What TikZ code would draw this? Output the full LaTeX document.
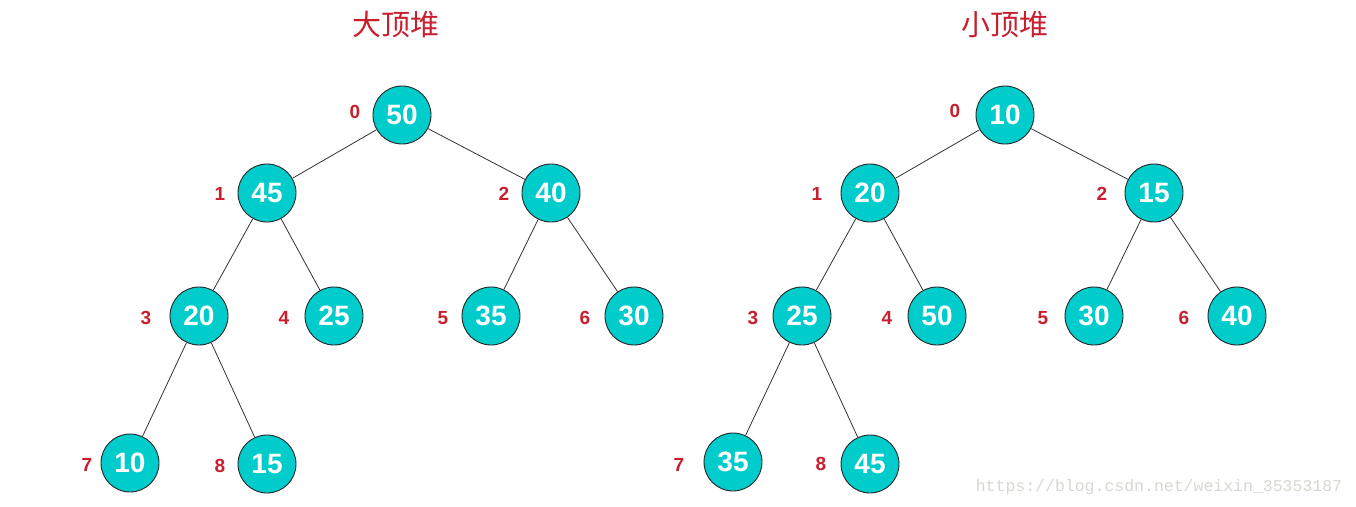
\documentclass[tikz,border=0pt]{standalone}
\usepackage{fontspec}
\setmainfont{Liberation Sans}
\newfontfamily\cjk{Noto Sans CJK SC}
\newfontfamily\wmfont{Liberation Mono}
\definecolor{nodecyan}{RGB}{0,204,204}
\definecolor{idxred}{RGB}{200,30,45}
\definecolor{wmgray}{RGB}{215,215,210}
\begin{document}
\begin{tikzpicture}[x=1pt,y=-1pt,
  heapnode/.style={circle,draw=black!85,line width=0.9pt,fill=nodecyan,minimum size=58pt,inner sep=0pt,
    text=white,font=\fontsize{28}{28}\selectfont\bfseries},
  idx/.style={text=idxred,font=\fontsize{19}{19}\selectfont\bfseries,inner sep=0pt},
  ttl/.style={text=idxred,font=\cjk\fontsize{29}{29}\selectfont,inner sep=0pt},
  edge/.style={draw=black!80,line width=0.8pt}]
\useasboundingbox (0,0) rectangle (1356,506);
% titles
\node[ttl] (t1) at (396,25) {大顶堆};
\node[ttl] (t2) at (1005,25) {小顶堆};
% left tree
\node[heapnode] (a0) at (402,115) {50};
\node[heapnode] (a1) at (267,193) {45};
\node[heapnode] (a2) at (551,193) {40};
\node[heapnode] (a3) at (199,316) {20};
\node[heapnode] (a4) at (334,316) {25};
\node[heapnode] (a5) at (491,316) {35};
\node[heapnode] (a6) at (634,316) {30};
\node[heapnode] (a7) at (130,463) {10};
\node[heapnode] (a8) at (267,464) {15};
\draw[edge] (a0) -- (a1); \draw[edge] (a0) -- (a2);
\draw[edge] (a1) -- (a3); \draw[edge] (a1) -- (a4);
\draw[edge] (a2) -- (a5); \draw[edge] (a2) -- (a6);
\draw[edge] (a3) -- (a7); \draw[edge] (a3) -- (a8);
\node[idx] (ai0) at (355,112) {0};
\node[idx] (ai1) at (220,194) {1};
\node[idx] (ai2) at (504,194) {2};
\node[idx] (ai3) at (146,318) {3};
\node[idx] (ai4) at (284,318) {4};
\node[idx] (ai5) at (443,318) {5};
\node[idx] (ai6) at (585,318) {6};
\node[idx] (ai7) at (87,465) {7};
\node[idx] (ai8) at (220,466) {8};
% right tree
\node[heapnode] (b0) at (1005,115) {10};
\node[heapnode] (b1) at (870,193) {20};
\node[heapnode] (b2) at (1154,193) {15};
\node[heapnode] (b3) at (802,316) {25};
\node[heapnode] (b4) at (937,316) {50};
\node[heapnode] (b5) at (1094,316) {30};
\node[heapnode] (b6) at (1237,316) {40};
\node[heapnode] (b7) at (733,462) {35};
\node[heapnode] (b8) at (870,464) {45};
\draw[edge] (b0) -- (b1); \draw[edge] (b0) -- (b2);
\draw[edge] (b1) -- (b3); \draw[edge] (b1) -- (b4);
\draw[edge] (b2) -- (b5); \draw[edge] (b2) -- (b6);
\draw[edge] (b3) -- (b7); \draw[edge] (b3) -- (b8);
\node[idx] (bi0) at (955,111) {0};
\node[idx] (bi1) at (817,194) {1};
\node[idx] (bi2) at (1102,194) {2};
\node[idx] (bi3) at (753,318) {3};
\node[idx] (bi4) at (887,318) {4};
\node[idx] (bi5) at (1043,318) {5};
\node[idx] (bi6) at (1184,318) {6};
\node[idx] (bi7) at (679,465) {7};
\node[idx] (bi8) at (821,464) {8};
% watermark
\node[text=wmgray,font=\wmfont\fontsize{16.5}{16.5}\selectfont,inner sep=0pt] (wm) at (1159,487) {https://blog.csdn.net/weixin\_35353187};
\end{tikzpicture}
\end{document}
